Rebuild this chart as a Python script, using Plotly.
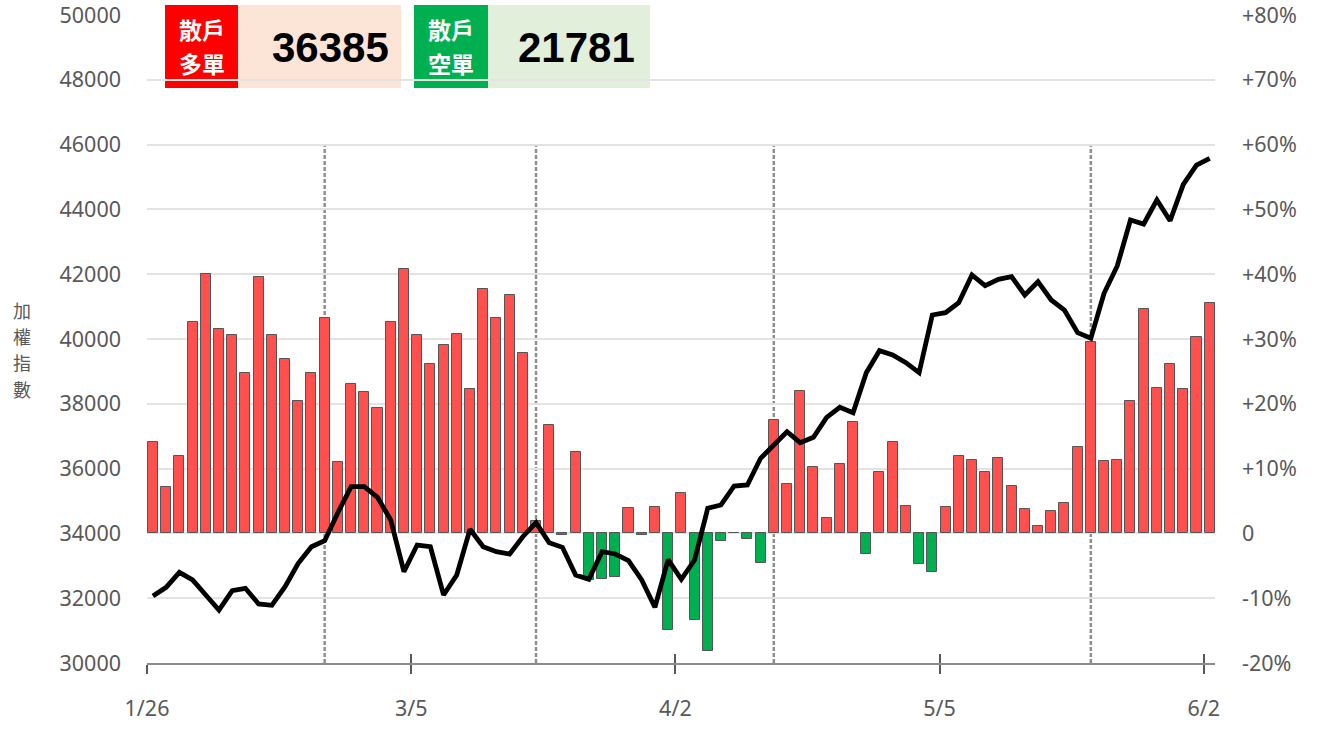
import plotly.graph_objects as go

# ---------------- data ----------------
retail_pct = [14.15, 7.1, 11.9, 32.6, 40.0, 31.5, 30.6, 24.8, 39.5, 30.6,
              26.9, 20.5, 24.8, 33.2, 11.0, 23.1, 21.8, 19.4, 32.6, 40.8,
              30.6, 26.2, 29.1, 30.8, 22.3, 37.7, 33.3, 36.8, 27.9, 1.9,
              16.7, -0.2, 12.5, -7.2, -7.1, -6.7, 3.9, -0.3, 4.0, -14.9,
              6.3, -13.3, -18.1, -1.1, 0.1, -0.9, -4.6, 17.5, 7.7, 22.0,
              10.3, 2.4, 10.7, 17.2, -3.2, 9.4, 14.1, 4.2, -4.7, -5.9,
              4.0, 12.0, 11.4, 9.4, 11.6, 7.3, 3.8, 1.1, 3.4, 4.7,
              13.4, 29.6, 11.1, 11.4, 20.5, 34.6, 22.5, 26.1, 22.3, 30.3,
              35.5]

taiex = [32068, 32336, 32799, 32562, 32099, 31636, 32231, 32305, 31821, 31780,
         32355, 33077, 33590, 33775, 34639, 35441, 35441, 35114, 34414, 32818,
         33642, 33590, 32099, 32716, 34126, 33590, 33436, 33364, 33898, 34330,
         33713, 33570, 32716, 32583, 33436, 33364, 33158, 32562, 31719, 33190,
         32583, 33179, 34775, 34877, 35463, 35494, 36318, 36750, 37139, 36799,
         36966, 37583, 37892, 37725, 38960, 39639, 39506, 39269, 38960, 40741,
         40812, 41120, 41975, 41645, 41842, 41923, 41358, 41769, 41204, 40895,
         40194, 40021, 41410, 42253, 43673, 43549, 44290, 43651, 44774, 45370,
         45577]

day_idx = list(range(len(taiex)))
tick_idx = [0, 20, 40, 60, 80]
tick_labels = ["1/26", "3/5", "4/2", "5/5", "6/2"]
marker_idx = [13, 29, 47, 71]

pct_ticks = [-20, -10, 0, 10, 20, 30, 40, 50, 60, 70, 80]
pct_labels = ["-20%", "-10%", "0", "+10%", "+20%", "+30%", "+40%", "+50%", "+60%", "+70%", "+80%"]

long_count = 36385
short_count = 21781

# ---------------- layout helpers (screen pixels) ----------------
W, H = 1326, 731
L, R, T, B = 147, 111, 15, 68
PW, PH = W - L - R, H - T - B


def px_x(x):
    return (x - L) / PW


def px_y(y):
    return (H - B - y) / PH


GREY = "#595959"
FONT = "Noto Sans CJK TC"
NUMFONT = "Noto Sans"

fig = go.Figure()

fig.add_trace(go.Bar(
    x=day_idx, y=retail_pct, width=0.76,
    marker=dict(color=["#ff5050" if v >= 0 else "#00b050" for v in retail_pct],
                line=dict(color="#555555", width=1)),
    yaxis="y", xaxis="x", showlegend=False, hoverinfo="skip"))

fig.add_trace(go.Scatter(
    x=day_idx, y=taiex, mode="lines",
    line=dict(color="black", width=4.8),
    yaxis="y2", xaxis="x", showlegend=False))

# invisible trace to make the overlay x axis render
fig.add_trace(go.Scatter(x=[day_idx[0]], y=[pct_ticks[0]], xaxis="x2", yaxis="y",
                         mode="markers", marker=dict(opacity=0), showlegend=False,
                         hoverinfo="skip"))

shift = -0.45
shapes = []
for m in marker_idx:
    shapes.append(dict(type="line", xref="x", yref="y2", x0=m, x1=m, y0=30000, y1=46000,
                       line=dict(color="#8f8f8f", width=2.5, dash="4px,2px"), layer="below"))

# label boxes
boxes = [(165, 238, "#ff0000"), (238, 401, "#fce4d6"), (414, 488, "#00b050"), (488, 650, "#e2efda")]
for x0, x1, c in boxes:
    shapes.append(dict(type="rect", xref="paper", yref="paper",
                       x0=px_x(x0), x1=px_x(x1), y0=px_y(88), y1=px_y(5),
                       fillcolor=c, line=dict(width=0), layer="below"))

annotations = []
for xc, l1, l2 in [(201.5, "散戶", "多單"), (451, "散戶", "空單")]:
    for yc, t in [(29, l1), (62.5, l2)]:
        annotations.append(dict(xref="paper", yref="paper", x=px_x(xc), y=px_y(yc),
                                text=f"<b>{t}</b>", showarrow=False, xanchor="center",
                                yanchor="middle",
                                font=dict(family=FONT, size=23, color="white")))
for xr_, val in [(391, long_count), (637, short_count)]:
    annotations.append(dict(xref="paper", yref="paper", x=px_x(xr_), y=px_y(47.5),
                            text=f"<b>{val}</b>", showarrow=False, xanchor="right",
                            yanchor="middle",
                            font=dict(family="Liberation Sans, Arial", size=42, color="black")))

for k, ch in enumerate("加權指數"):
    annotations.append(dict(xref="paper", yref="paper", x=px_x(22), y=px_y(310 + 26.2 * k),
                            text=ch, showarrow=False, xanchor="center", yanchor="middle",
                            font=dict(family=FONT, size=18, color=GREY)))

tickfont = dict(family=NUMFONT, size=21.5, color=GREY)
xr = [shift, 80.4]
fig.update_layout(
    width=W, height=H,
    margin=dict(l=L, r=R, t=T, b=B, autoexpand=False),
    paper_bgcolor="white", plot_bgcolor="rgba(0,0,0,0)",
    bargap=0,
    shapes=shapes, annotations=annotations,
    xaxis=dict(range=xr, tickvals=[t + shift for t in tick_idx], ticktext=tick_labels,
               showgrid=False, zeroline=False, showline=True, linecolor="#8a8a8a", linewidth=2,
               ticks="outside", ticklen=9, tickwidth=1.5, tickcolor=GREY,
               tickfont=tickfont, ticklabelstandoff=16,
               ticklabeloverflow="allow", anchor="y", automargin=False),
    xaxis2=dict(range=xr, overlaying="x", anchor="y", tickvals=[t + shift for t in tick_idx],
                showticklabels=False, showgrid=False, zeroline=False, showline=False,
                ticks="inside", ticklen=9, tickwidth=1.5, tickcolor=GREY, automargin=False),
    yaxis=dict(side="right", range=[-20, 80.001], tickvals=pct_ticks, ticktext=pct_labels,
               showgrid=True, gridcolor="#e3e3e3", gridwidth=1.5, zeroline=False, showline=False,
               tickfont=tickfont, ticklabelstandoff=26,
               ticklabeloverflow="allow", anchor="x", automargin=False),
    yaxis2=dict(side="left", overlaying="y", range=[30000, 50000.2], dtick=2000,
                tickformat="d", showgrid=False, zeroline=False, showline=False,
                tickfont=tickfont, ticklabelstandoff=25,
                ticklabeloverflow="allow", anchor="x", automargin=False),
)

fig.write_html("out.html", config={"displayModeBar": False},
               post_script="document.body.style.margin='0';document.body.style.overflow='hidden';")
